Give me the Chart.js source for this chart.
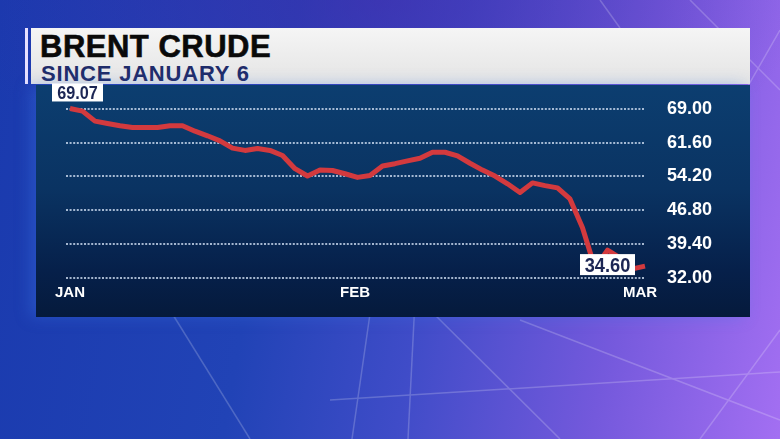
<!DOCTYPE html>
<html lang="en">
<head>
    <meta charset="UTF-8">
    <title>Brent Crude</title>
    <script src="https://cdn.jsdelivr.net/npm/chart.js"></script>
    <style>
        body {
            margin: 0;
            width: 780px;
            height: 439px;
            overflow: hidden;
            position: relative;
            font-family: 'Liberation Sans', Arial, sans-serif;
            background:
                radial-gradient(ellipse 420px 220px at 380px 0px, rgba(70,40,170,0.55), rgba(70,40,170,0) 100%),
                linear-gradient(100deg, #1a3aae 0%, #2143b6 35%, #3f4cc8 55%, #7459dc 78%, #a36ff2 100%);
        }

        .streaks {
            position: absolute;
            left: 0;
            top: 0;
        }

        .titlebar {
            position: absolute;
            left: 31px;
            top: 28px;
            width: 719px;
            height: 56px;
            background: linear-gradient(#f5f5f5, #e4e4e4);
        }

        .edge {
            position: absolute;
            left: 25px;
            top: 28px;
            width: 3px;
            height: 56px;
            background: #e8e0ff;
        }

        .title {
            position: absolute;
            left: 40px;
            top: 31px;
            font-size: 31px;
            line-height: 31px;
            font-weight: bold;
            letter-spacing: 0.5px;
            color: #0a0a0a;
            -webkit-text-stroke: 0.6px #0a0a0a;
        }

        .subtitle {
            position: absolute;
            left: 41px;
            top: 63px;
            font-size: 22px;
            line-height: 22px;
            font-weight: bold;
            letter-spacing: 0.8px;
            color: #1f2c6a;
        }

        .panel {
            position: absolute;
            left: 36px;
            top: 85px;
            width: 714px;
            height: 232px;
            background: linear-gradient(#0c3e70 0%, #0a3362 45%, #06204a 80%, #051a3c 100%);
            box-shadow: -6px 0 14px rgba(60,120,230,0.35);
        }

        #chart {
            position: absolute;
            left: 36px;
            top: 76px;
        }
    </style>
</head>
<body>

    <svg class="streaks" width="780" height="439">
        <g stroke="#ffffff" stroke-width="1.5" fill="none" opacity="0.2">
            <line x1="415" y1="300" x2="408" y2="439"/>
            <line x1="372" y1="300" x2="352" y2="439"/>
            <line x1="430" y1="310" x2="560" y2="439"/>
            <line x1="170" y1="310" x2="250" y2="439"/>
            <line x1="330" y1="400" x2="780" y2="372"/>
            <line x1="520" y1="320" x2="780" y2="420"/>
            <line x1="600" y1="0" x2="620" y2="28"/>
            <line x1="690" y1="0" x2="780" y2="90"/>
            <line x1="780" y1="30" x2="740" y2="100"/>
            <line x1="700" y1="439" x2="780" y2="330"/>
        </g>
    </svg>

    <div class="edge"></div>
    <div class="titlebar"></div>
    <div class="title">BRENT CRUDE</div>
    <div class="subtitle">SINCE JANUARY 6</div>
    <div class="panel"></div>
    <canvas id="chart" width="714" height="241"></canvas>

    <script>
        // Giá dầu Brent, mỗi điểm cách đều nhau
        const prices = [
            69.07, 68.5, 66.3, 65.8, 65.3, 64.9, 64.9, 64.9, 65.3, 65.3,
            64.1, 63.1, 62.0, 60.4, 59.9, 60.3, 59.9, 58.8, 55.9, 54.3,
            55.6, 55.5, 54.8, 54.0, 54.4, 56.5, 57.0, 57.6, 58.2, 59.5,
            59.5, 58.7, 57.1, 55.6, 54.3, 52.6, 50.7, 52.8, 52.2, 51.7,
            49.3, 43.0, 34.2, 38.1, 36.4, 34.0, 34.6
        ];
        const monthTicks = [0, 22.8, 45.6];
        const monthLabels = ['JAN', 'FEB', 'MAR'];
        const priceTicks = [32.00, 39.40, 46.80, 54.20, 61.60, 69.00];

        function boxLabel(ctx, text, x, y, w, h, size, squeeze) {
            ctx.save();
            ctx.fillStyle = '#ffffff';
            ctx.fillRect(x, y, w, h);
            ctx.fillStyle = '#1c2654';
            ctx.font = 'bold ' + size + 'px "Liberation Sans", Arial, sans-serif';
            ctx.textAlign = 'center';
            ctx.textBaseline = 'alphabetic';
            ctx.translate(x + w / 2, y + h / 2 + size * 0.36);
            ctx.scale(squeeze, 1);
            ctx.fillText(text, 0, 0);
            ctx.restore();
        }

        // nhãn giá đầu và cuối
        const endLabels = {
            id: 'endLabels',
            afterDatasetsDraw(chart) {
                const pts = chart.getDatasetMeta(0).data;
                const first = pts[0];
                const last = pts[pts.length - 1];
                const ctx = chart.ctx;
                boxLabel(ctx, prices[0].toFixed(2), first.x - 18, first.y - 25, 51, 18, 18, 0.9);
                boxLabel(ctx, prices[prices.length - 1].toFixed(2), last.x - 65, last.y - 12, 55, 21, 21, 0.87);
            }
        };

        const chart = new Chart(document.getElementById('chart'), {
            type: 'line',
            data: {
                datasets: [{
                    data: prices.map((p, i) => ({ x: i, y: p })),
                    borderColor: '#d33a3e',
                    borderWidth: 5,
                    pointRadius: 0,
                    tension: 0,
                    borderJoinStyle: 'round',
                    clip: false
                }]
            },
            options: {
                responsive: false,
                animation: false,
                layout: {
                    padding: { left: 30, top: 14, right: 0, bottom: 0 }
                },
                plugins: {
                    legend: { display: false },
                    tooltip: { enabled: false }
                },
                scales: {
                    x: {
                        type: 'linear',
                        min: -0.32,
                        max: 46,
                        afterBuildTicks: s => { s.ticks = monthTicks.map(v => ({ value: v })); },
                        afterFit: s => { s.height = 39; },
                        grid: { display: false, drawTicks: false },
                        border: { display: false },
                        ticks: {
                            autoSkip: false,
                            maxRotation: 0,
                            padding: 6,
                            color: '#ffffff',
                            font: { family: '"Liberation Sans", Arial, sans-serif', size: 15, weight: 'bold' },
                            callback: (v, i) => monthLabels[i]
                        }
                    },
                    y: {
                        position: 'right',
                        min: 32,
                        max: 69,
                        afterBuildTicks: s => { s.ticks = priceTicks.map(v => ({ value: v })); },
                        afterFit: s => { s.width = 105; },
                        grid: {
                            color: 'rgba(205,220,240,0.8)',
                            lineWidth: 2,
                            drawTicks: false
                        },
                        border: { display: false, dash: [2, 1.6] },
                        ticks: {
                            padding: 22,
                            color: '#ffffff',
                            font: { family: '"Liberation Sans", Arial, sans-serif', size: 18, weight: 'bold' },
                            callback: v => v.toFixed(2)
                        }
                    }
                }
            },
            plugins: [endLabels]
        });
    </script>

</body>
</html>
